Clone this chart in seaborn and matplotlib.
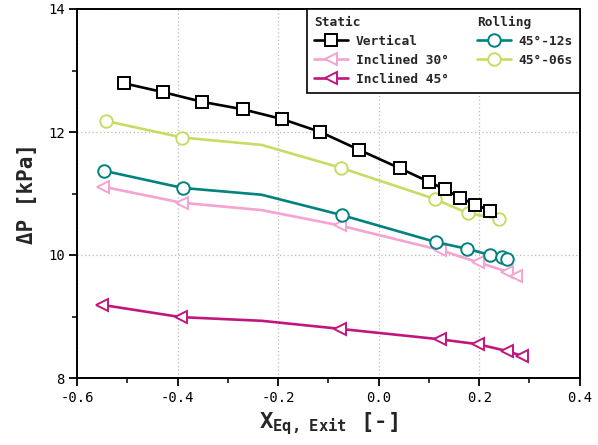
import numpy as np
import pandas as pd
import seaborn as sns
import matplotlib
matplotlib.use("Agg")
import matplotlib.pyplot as plt
from matplotlib.lines import Line2D
from matplotlib.transforms import Affine2D

# ---- data ----
vert_x = [-0.506, -0.430, -0.351, -0.271, -0.192, -0.116, -0.039, 0.042, 0.100, 0.131, 0.162, 0.192, 0.222]
vert_y = [12.79, 12.65, 12.49, 12.37, 12.21, 12.00, 11.71, 11.41, 11.19, 11.07, 10.93, 10.82, 10.72]

inc30_x = [-0.548, -0.392, -0.233, -0.077, 0.122, 0.198, 0.256, 0.273]
inc30_y = [11.11, 10.85, 10.73, 10.48, 10.08, 9.88, 9.73, 9.66]

inc45_x = [-0.551, -0.394, -0.233, -0.078, 0.121, 0.197, 0.255, 0.285]
inc45_y = [9.19, 8.99, 8.93, 8.80, 8.63, 8.55, 8.44, 8.36]

r12_x = [-0.547, -0.390, -0.233, -0.074, 0.114, 0.176, 0.222, 0.245, 0.256]
r12_y = [11.37, 11.09, 10.98, 10.65, 10.21, 10.10, 10.00, 9.96, 9.93]

r06_x = [-0.543, -0.391, -0.233, -0.076, 0.112, 0.177, 0.240]
r06_y = [12.18, 11.91, 11.79, 11.42, 10.91, 10.68, 10.59]

# points drawn without a marker (line vertex only)
inc30_marked = [0, 1, 3, 4, 5, 6, 7]
inc45_marked = [0, 1, 3, 4, 5, 6, 7]
r12_marked = [0, 1, 3, 4, 5, 6, 7, 8]
r06_marked = [0, 1, 3, 4, 5, 6]

series_labels = ["Vertical", "Inclined 30°", "Inclined 45°", "45°-12s", "45°-06s"]
x_ticks = [-0.6, -0.4, -0.2, 0.0, 0.2, 0.4]
y_ticks = [8, 10, 12, 14]

# ---- style ----
sns.set_theme(style="white")
plt.rcParams["font.family"] = ["DejaVu Sans Mono", "DejaVu Sans"]
plt.rcParams["mathtext.fontset"] = "custom"
plt.rcParams["mathtext.rm"] = "DejaVu Sans Mono"
plt.rcParams["mathtext.bf"] = "DejaVu Sans Mono:bold"

fig = plt.figure(figsize=(5.98, 4.45), dpi=100)
ax = fig.add_axes([77.2 / 598, (445 - 378) / 445, (579.7 - 77.2) / 598, (378 - 9) / 445])

colors = {
    "Vertical": "#000000",
    "Inclined 30°": "#f4a3d2",
    "Inclined 45°": "#c0177f",
    "45°-12s": "#00827f",
    "45°-06s": "#c8dc64",
}

lw = 1.9
ms = 9
mew = 1.4

def draw(xs, ys, label, marker, marked, zorder):
    df = pd.DataFrame({"x": xs, "y": ys})
    sns.lineplot(data=df, x="x", y="y", ax=ax, color=colors[label], lw=lw,
                 marker=marker, markersize=ms, markerfacecolor="white",
                 markeredgecolor=colors[label], markeredgewidth=mew,
                 markevery=marked, sort=False, estimator=None, label=label,
                 legend=False, zorder=zorder)

draw(inc45_x, inc45_y, "Inclined 45°", "<", inc45_marked, 3)
draw(inc30_x, inc30_y, "Inclined 30°", "<", inc30_marked, 3)
draw(r12_x, r12_y, "45°-12s", "o", r12_marked, 4)
draw(r06_x, r06_y, "45°-06s", "o", r06_marked, 4)
draw(vert_x, vert_y, "Vertical", "s", list(range(len(vert_x))), 5)

ax.set_xlim(-0.6, 0.4)
ax.set_ylim(8, 14)
ax.set_xticks(x_ticks)
ax.set_xticklabels([f"{v:.1f}" for v in x_ticks])
ax.set_yticks(y_ticks)
ax.set_yticklabels([str(v) for v in y_ticks])
ax.set_xticks([-0.5, -0.3, -0.1, 0.1, 0.3], minor=True)
ax.set_yticks([9, 11, 13], minor=True)
ax.tick_params(axis="both", which="major", direction="out", length=6, width=1.3,
               labelsize=10, colors="black", bottom=True, left=True, pad=3)
ax.tick_params(axis="both", which="minor", direction="out", length=3.5, width=1.3,
               bottom=True, left=True)
ax.grid(True, which="major", linestyle=(0, (1, 2)), color="#bbbbbb", lw=0.9)
for s in ax.spines.values():
    s.set_visible(True)
    s.set_color("black")
    s.set_linewidth(1.4)

ax.set_ylabel("ΔP [kPa]", fontsize=15, fontweight="bold", labelpad=8)
ax.set_xlabel(r"$\mathbf{X}_{\mathbf{Eq,\ Exit}}$ [-]", fontsize=16, fontweight="bold", labelpad=4)

# ---- legend with column headers ----
def h(label, marker):
    return Line2D([], [], color=colors[label], lw=lw, marker=marker, markersize=ms,
                  markerfacecolor="white", markeredgecolor=colors[label], markeredgewidth=mew)

blank = Line2D([], [], color="none", lw=0)
handles = [blank, h("Vertical", "s"), h("Inclined 30°", "<"), h("Inclined 45°", "<"),
           blank, h("45°-12s", "o"), h("45°-06s", "o"), blank]
labels = ["Static", "Vertical", "Inclined 30°", "Inclined 45°",
          "Rolling", "45°-12s", "45°-06s", ""]
leg_fs = 9.3
hl, htp = 2.6, 0.6
leg = ax.legend(handles, labels, ncol=2, loc="upper right", bbox_to_anchor=(1.0, 1.0),
                borderaxespad=0.0, fontsize=leg_fs, handlelength=hl, handletextpad=htp,
                columnspacing=2.2, labelspacing=0.45, frameon=True, fancybox=False,
                edgecolor="black", framealpha=1.0, borderpad=0.55,
                prop={"family": "DejaVu Sans Mono", "weight": "bold", "size": leg_fs})
leg.get_frame().set_linewidth(1.2)
shift_px = (hl + htp) * leg_fs * fig.dpi / 72.0
for t in leg.get_texts():
    if t.get_text() in ("Static", "Rolling"):
        t.set_transform(t.get_transform() + Affine2D().translate(-shift_px, 0))

fig.savefig("out.png", dpi=100)
